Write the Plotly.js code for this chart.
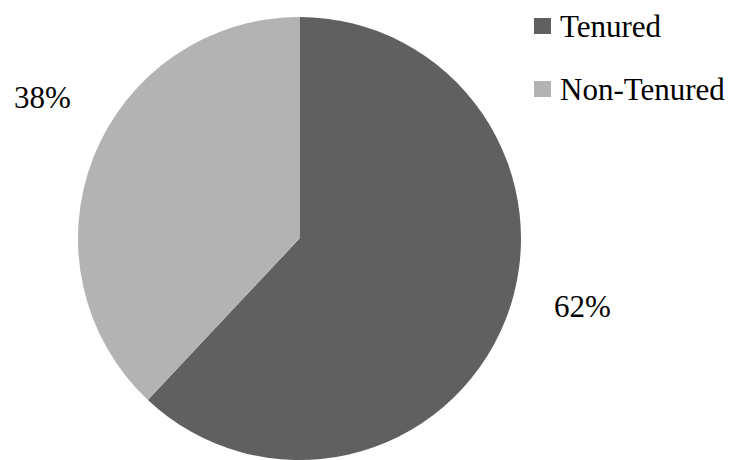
<!DOCTYPE html>
<html>
<head>
<meta charset="utf-8">
<script src="https://cdn.plot.ly/plotly-3.0.1.min.js"></script>
<style>html,body{margin:0;padding:0;background:#fff;}#chart{width:734px;height:460px;}</style>
</head>
<body>
<div id="chart"></div>
<script>
const categories = ["Tenured", "Non-Tenured"];
const values = [62, 38];
const colors = ["#606060", "#b3b3b3"];

const total = values.reduce((a, b) => a + b, 0);
const pct = values.map(v => Math.round(v / total * 100) + "%");
const FONT = "Liberation Serif";

const W = 734, H = 460;
// label positions (pixels) for each slice
const labelPos = [[582, 306], [42, 97]];
// legend positions (pixels): square left, center y
const legendPos = [[534, 26], [534, 89]];

const annotations = [];
const shapes = [];
categories.forEach((c, i) => {
  annotations.push({
    xref: "paper", yref: "paper",
    x: labelPos[i][0] / W, y: 1 - labelPos[i][1] / H,
    xanchor: "center", yanchor: "middle",
    text: pct[i], showarrow: false,
    font: {family: FONT, size: 31, color: "#000"}
  });
  shapes.push({
    type: "rect", xref: "paper", yref: "paper",
    x0: legendPos[i][0] / W, x1: (legendPos[i][0] + 17) / W,
    y0: 1 - (legendPos[i][1] - 8) / H, y1: 1 - (legendPos[i][1] + 8) / H,
    fillcolor: colors[i], line: {width: 0}
  });
  annotations.push({
    xref: "paper", yref: "paper",
    x: (legendPos[i][0] + 24) / W, y: 1 - legendPos[i][1] / H,
    xanchor: "left", yanchor: "middle",
    text: c, showarrow: false,
    font: {family: FONT, size: 31, color: "#000"}
  });
});

const data = [{
  type: "pie",
  labels: categories,
  values: values,
  marker: {colors: colors, line: {width: 0}},
  sort: false,
  direction: "clockwise",
  rotation: 0,
  textinfo: "none",
  hoverinfo: "label+percent",
  showlegend: false,
  domain: {x: [77 / W, 522 / W], y: [0, 1 - 17 / H]}
}];

const layout = {
  width: W, height: H,
  margin: {l: 0, r: 0, t: 0, b: 0},
  paper_bgcolor: "#fff",
  plot_bgcolor: "#fff",
  font: {family: FONT},
  showlegend: false,
  annotations: annotations,
  shapes: shapes
};

Plotly.newPlot("chart", data, layout, {displayModeBar: false, staticPlot: true});
</script>
</body>
</html>
